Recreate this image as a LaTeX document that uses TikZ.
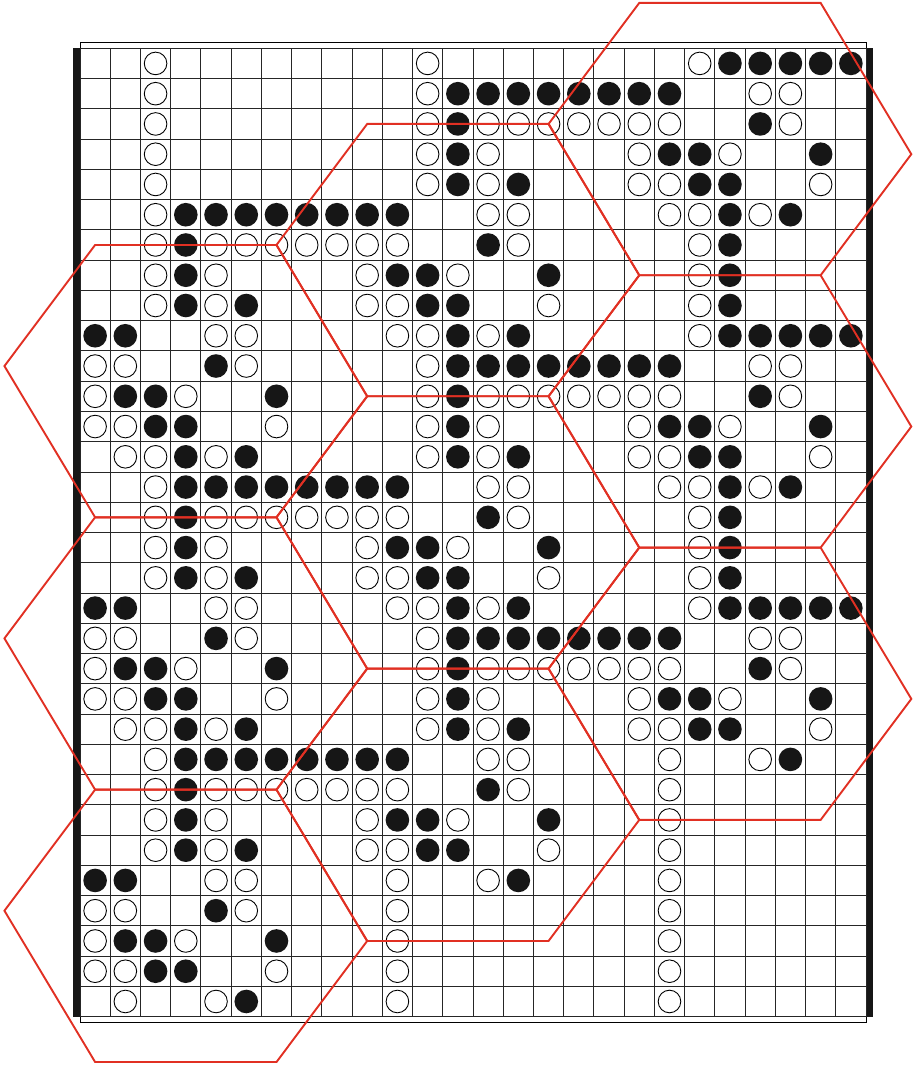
\documentclass[tikz,border=0pt]{standalone}
\definecolor{hexred}{RGB}{225,48,35}
\definecolor{stonecol}{RGB}{22,22,22}
\tikzset{
  gridline/.style={line width=0.85pt, black!85},
  wstone/.style={fill=white, draw=black, line width=0.9pt},
  bstone/.style={fill=stonecol},
  hexline/.style={draw=hexred, line width=1.9pt, line join=miter},
  bar/.style={fill=stonecol}
}
\begin{document}
\begin{tikzpicture}[x=30.23pt,y=-30.26pt]
\useasboundingbox (-2.6464,-1.5962) rectangle (27.622,33.632);
% outer thin frame
\draw[line width=0.9pt] (0,-0.19) rectangle (26,32.19);
\fill[white] (0,0) rectangle (26,32);
% grid
\foreach \i in {0,...,26} \draw[gridline] (\i,0) -- (\i,32);
\foreach \j in {0,...,32} \draw[gridline] (0,\j) -- (26,\j);
% thick side bars
\fill[bar] (-0.2216,0) rectangle (-0.0165,32);
\fill[bar] (26.017,0) rectangle (26.22,32);
% white stones
\foreach \r/\cs in {
 0/{2,11,20}, 1/{2,11,22,23}, 2/{2,11,13,14,15,16,17,18,19,23},
 3/{2,11,13,18,21}, 4/{2,11,13,18,19,24}, 5/{2,13,14,19,20,22},
 6/{2,4,5,6,7,8,9,10,14,20}, 7/{2,4,9,12,20}, 8/{2,4,9,10,15,20},
 9/{4,5,10,11,13,20}, 10/{0,1,5,11,22,23}, 11/{0,3,11,13,14,15,16,17,18,19,23},
 12/{0,1,6,11,13,18,21}, 13/{1,2,4,11,13,18,19,24}, 14/{2,13,14,19,20,22},
 15/{2,4,5,6,7,8,9,10,14,20}, 16/{2,4,9,12,20}, 17/{2,4,9,10,15,20},
 18/{4,5,10,11,13,20}, 19/{0,1,5,11,22,23}, 20/{0,3,11,13,14,15,16,17,18,19,23},
 21/{0,1,6,11,13,18,21}, 22/{1,2,4,11,13,18,19,24}, 23/{2,13,14,19,22},
 24/{2,4,5,6,7,8,9,10,14,19}, 25/{2,4,9,12,19}, 26/{2,4,9,10,15,19},
 27/{4,5,10,13,19}, 28/{0,1,5,10,19}, 29/{0,3,10,19}, 30/{0,1,6,10,19},
 31/{1,4,10,19}}
 {\foreach \c in \cs {\draw[wstone] (\c+0.5,\r+0.5) circle[radius=11.3pt];}}
% black stones
\foreach \r/\cs in {
 0/{21,22,23,24,25}, 1/{12,13,14,15,16,17,18,19}, 2/{12,22},
 3/{12,19,20,24}, 4/{12,14,20,21}, 5/{3,4,5,6,7,8,9,10,21,23},
 6/{3,13,21}, 7/{3,10,11,15,21}, 8/{3,5,11,12,21},
 9/{0,1,12,14,21,22,23,24,25}, 10/{4,12,13,14,15,16,17,18,19}, 11/{1,2,6,12,22},
 12/{2,3,12,19,20,24}, 13/{3,5,12,14,20,21}, 14/{3,4,5,6,7,8,9,10,21,23},
 15/{3,13,21}, 16/{3,10,11,15,21}, 17/{3,5,11,12,21},
 18/{0,1,12,14,21,22,23,24,25}, 19/{4,12,13,14,15,16,17,18,19}, 20/{1,2,6,12,22},
 21/{2,3,12,19,20,24}, 22/{3,5,12,14,20,21}, 23/{3,4,5,6,7,8,9,10,23},
 24/{3,13}, 25/{3,10,11,15}, 26/{3,5,11,12}, 27/{0,1,14},
 28/{4}, 29/{1,2,6}, 30/{2,3}, 31/{5}}
 {\foreach \c in \cs {\fill[bstone] (\c+0.5,\r+0.5) circle[radius=11.8pt];}}
% red hexagons
\foreach \hx/\hy in {3.5/11, 3.5/20, 3.5/29, 12.5/7, 12.5/16, 12.5/25, 21.5/3, 21.5/12, 21.5/21}
 {\draw[hexline] (\hx-3,\hy-4.5) -- (\hx+3,\hy-4.5) -- (\hx+6,\hy+0.5) -- (\hx+3,\hy+4.5)
   -- (\hx-3,\hy+4.5) -- (\hx-6,\hy-0.5) -- cycle;}
\end{tikzpicture}
\end{document}
